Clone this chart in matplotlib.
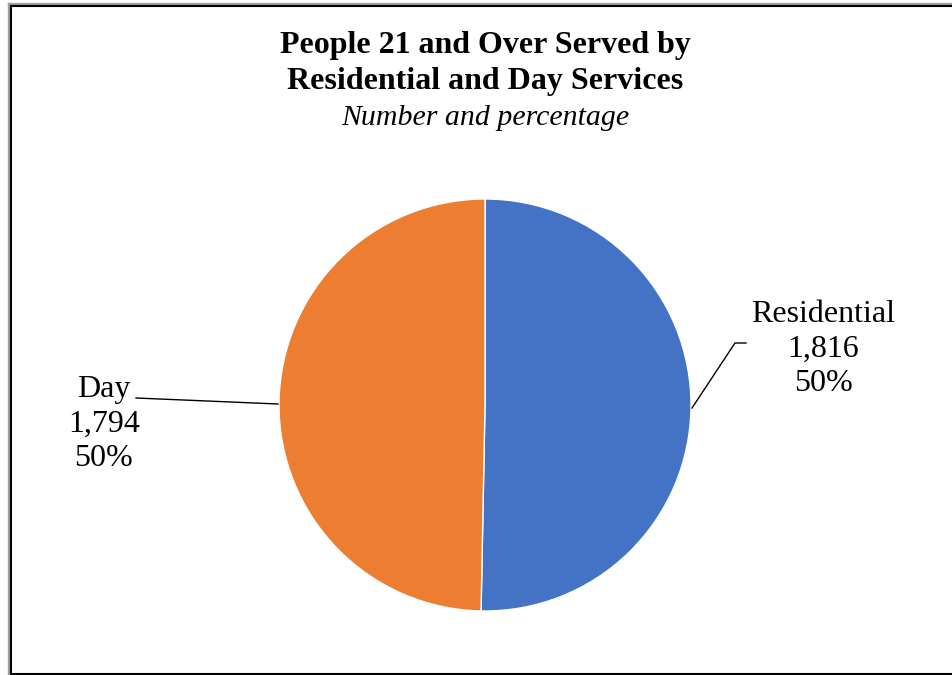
import matplotlib.pyplot as plt
from matplotlib.lines import Line2D

# data
labels = ["Residential", "Day"]
counts = [1816, 1794]
colors = ["#4472C4", "#ED7D31"]

plt.rcParams["font.family"] = ["Liberation Serif", "DejaVu Serif"]

W, H = 952, 675
fig = plt.figure(figsize=(W / 100, H / 100), dpi=100)

# pie centred at pixel (485, 405) with radius 206
cx, cy, r = 485, 405, 206
ax = fig.add_axes([(cx - r) / W, (H - cy - r) / H, 2 * r / W, 2 * r / H])
wedges, _ = ax.pie(counts, colors=colors, startangle=90, counterclock=False,
                   radius=1, wedgeprops=dict(edgecolor="white", linewidth=1))
ax.set_xlim(-1, 1)
ax.set_ylim(-1, 1)
ax.set_aspect("equal")
ax.axis("off")

total = sum(counts)
def lab(i):
    return f"{labels[i]}\n{counts[i]:,}\n{round(100 * counts[i] / total)}%"

def px(x, y):
    return ((x - cx) / r, (cy - y) / r)

# data labels with leader lines
ax.text(*px(823, 349), lab(0), ha="center", va="center", fontsize=23,
        linespacing=1.27, clip_on=False)
ax.add_line(Line2D(*zip(px(692, 408), px(735, 343), px(746, 343)),
                   color="black", lw=1, clip_on=False))
ax.text(*px(104, 424), lab(1), ha="center", va="center", fontsize=23,
        linespacing=1.27, clip_on=False)
ax.add_line(Line2D(*zip(px(278, 404), px(136, 398)),
                   color="black", lw=1, clip_on=False))

# titles
fig.text(485 / W, 1 - 46 / H, "People 21 and Over Served by", ha="center",
         va="center", fontsize=23, fontweight="bold")
fig.text(485 / W, 1 - 82 / H, "Residential and Day Services", ha="center",
         va="center", fontsize=23, fontweight="bold")
fig.text(485 / W, 1 - 118 / H, "Number and percentage", ha="center",
         va="center", fontsize=21.5, style="italic")

# frame: grey outer + black inner line
fig.add_artist(Line2D([8.5 / W, 8.5 / W], [1 - 4 / H, 0], color="#A0A0A0", lw=2.4))
fig.add_artist(Line2D([8.5 / W, 1], [1 - 4 / H, 1 - 4 / H], color="#A0A0A0", lw=2.4))
fig.add_artist(Line2D([11 / W, 11 / W], [1 - 6 / H, 1 - 673.5 / H], color="black", lw=1.5))
fig.add_artist(Line2D([11 / W, 1], [1 - 6 / H, 1 - 6 / H], color="black", lw=1.5))
fig.add_artist(Line2D([11 / W, 1], [1 - 673.5 / H, 1 - 673.5 / H], color="black", lw=1.5))

fig.savefig("out.png", dpi=100)
